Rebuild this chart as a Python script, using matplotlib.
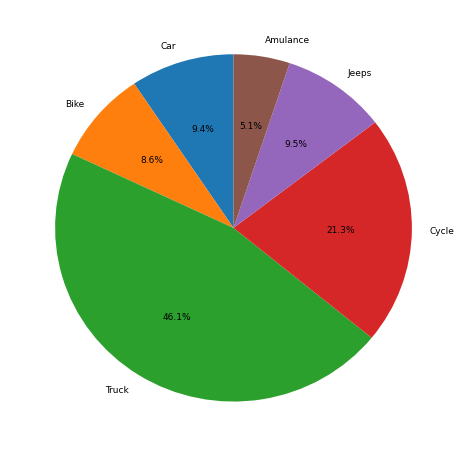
import matplotlib
matplotlib.use("Agg")
import matplotlib.pyplot as plt

# vehicle counts share (percent)
labels = ['Car', 'Bike', 'Truck', 'Cycle', 'Jeeps', 'Amulance']
values = [9.4, 8.6, 46.1, 21.3, 9.5, 5.1]

fig = plt.figure(figsize=(4.67, 4.56), dpi=100)
ax = fig.add_axes([0.0225, 0.022, 0.955, 0.952])
wedges, texts, autotexts = ax.pie(values, labels=labels, autopct='%1.1f%%', startangle=90,
                                  textprops={'fontsize': 6.5})
ax.set_aspect('auto')
ax.set_xlim(-1.25, 1.25)
ax.set_ylim(-1.25, 1.25)

fig.savefig("out.png", dpi=100)
